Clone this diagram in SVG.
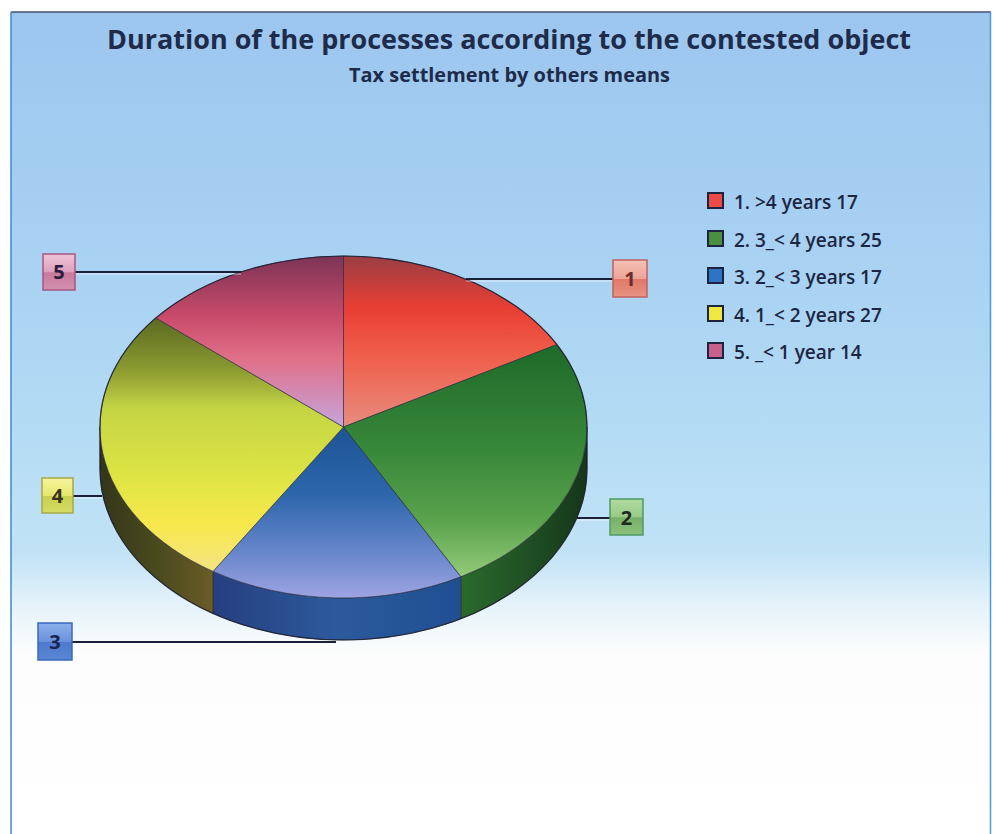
<svg xmlns="http://www.w3.org/2000/svg" width="996" height="834" viewBox="0 0 996 834">
<defs>
<style>
.title{font-family:"Open Sans","Liberation Sans",sans-serif;font-weight:bold;fill:#1e2b4a;}
.leg{font-family:"Open Sans","Liberation Sans",sans-serif;font-weight:600;font-size:19px;fill:#1c2642;}
.num{font-family:"Open Sans","Liberation Sans",sans-serif;font-weight:bold;font-size:20px;text-anchor:middle;}
.conn{stroke:#1a2038;stroke-width:2;fill:none;}
.connhl{stroke:#ffffff;stroke-width:1;opacity:0.6;fill:none;}
.edge{stroke:#2a2838;stroke-width:0.9;stroke-opacity:0.7;}
.sw{stroke:#1c2440;stroke-width:2;}
.box{stroke-width:1.5;}
</style>
<linearGradient id="bg" gradientUnits="userSpaceOnUse" x1="0" y1="12" x2="0" y2="834">
<stop offset="0" stop-color="#9cc6ee"/>
<stop offset="0.25" stop-color="#a6cff2"/>
<stop offset="0.5" stop-color="#b3dbf4"/>
<stop offset="0.66" stop-color="#c2e3f6"/>
<stop offset="0.72" stop-color="#e4f2fa"/>
<stop offset="0.78" stop-color="#fdfdfd"/>
<stop offset="1" stop-color="#ffffff"/>
</linearGradient>
<linearGradient id="gRed" gradientUnits="userSpaceOnUse" x1="0" y1="256" x2="0" y2="427">
<stop offset="0" stop-color="#9a3e44"/>
<stop offset="0.3" stop-color="#e83e34"/>
<stop offset="0.6" stop-color="#f0604c"/>
<stop offset="1" stop-color="#e68c80"/>
</linearGradient>
<linearGradient id="gPink" gradientUnits="userSpaceOnUse" x1="0" y1="256" x2="0" y2="427">
<stop offset="0" stop-color="#7c3456"/>
<stop offset="0.35" stop-color="#c84a6a"/>
<stop offset="0.6" stop-color="#e07088"/>
<stop offset="1" stop-color="#c6a4dc"/>
</linearGradient>
<linearGradient id="gYel" gradientUnits="userSpaceOnUse" x1="0" y1="318" x2="0" y2="575">
<stop offset="0" stop-color="#5c6a22"/>
<stop offset="0.2" stop-color="#8a9a30"/>
<stop offset="0.35" stop-color="#c4d444"/>
<stop offset="0.6" stop-color="#dce444"/>
<stop offset="0.8" stop-color="#f8e84c"/>
<stop offset="1" stop-color="#f2e488"/>
</linearGradient>
<linearGradient id="gGrn" gradientUnits="userSpaceOnUse" x1="0" y1="345" x2="0" y2="578">
<stop offset="0" stop-color="#1e6a2a"/>
<stop offset="0.45" stop-color="#38883a"/>
<stop offset="0.75" stop-color="#5aa24c"/>
<stop offset="1" stop-color="#94cc7a"/>
</linearGradient>
<linearGradient id="gBlu" gradientUnits="userSpaceOnUse" x1="0" y1="427" x2="0" y2="598">
<stop offset="0" stop-color="#1c5496"/>
<stop offset="0.4" stop-color="#2e66ac"/>
<stop offset="0.75" stop-color="#6a88cc"/>
<stop offset="1" stop-color="#9ea4e2"/>
</linearGradient>
<linearGradient id="sYel" gradientUnits="userSpaceOnUse" x1="100" y1="0" x2="213" y2="0">
<stop offset="0" stop-color="#34361a"/>
<stop offset="0.5" stop-color="#4a4a1e"/>
<stop offset="1" stop-color="#6a5c26"/>
</linearGradient>
<linearGradient id="sBlu" gradientUnits="userSpaceOnUse" x1="213" y1="0" x2="461" y2="0">
<stop offset="0" stop-color="#263f80"/>
<stop offset="0.5" stop-color="#2c5a9c"/>
<stop offset="1" stop-color="#1f4f92"/>
</linearGradient>
<linearGradient id="sGrn" gradientUnits="userSpaceOnUse" x1="461" y1="0" x2="587" y2="0">
<stop offset="0" stop-color="#2a6a2c"/>
<stop offset="0.6" stop-color="#1e4c22"/>
<stop offset="1" stop-color="#16361a"/>
</linearGradient>
<linearGradient id="b1" x1="0" y1="0" x2="0" y2="1">
<stop offset="0" stop-color="#f4c2b8"/>
<stop offset="0.5" stop-color="#eca496"/>
<stop offset="0.52" stop-color="#e07868"/>
<stop offset="1" stop-color="#e89484"/>
</linearGradient>
<linearGradient id="b2" x1="0" y1="0" x2="0" y2="1">
<stop offset="0" stop-color="#b0dca0"/>
<stop offset="0.5" stop-color="#98ca86"/>
<stop offset="0.52" stop-color="#78b068"/>
<stop offset="1" stop-color="#8cc27c"/>
</linearGradient>
<linearGradient id="b3" x1="0" y1="0" x2="0" y2="1">
<stop offset="0" stop-color="#8cb0ec"/>
<stop offset="0.5" stop-color="#6a92dc"/>
<stop offset="0.52" stop-color="#4e7ace"/>
<stop offset="1" stop-color="#5a86d4"/>
</linearGradient>
<linearGradient id="b4" x1="0" y1="0" x2="0" y2="1">
<stop offset="0" stop-color="#f4f49c"/>
<stop offset="0.5" stop-color="#e6e86e"/>
<stop offset="0.52" stop-color="#c8d050"/>
<stop offset="1" stop-color="#d4dc64"/>
</linearGradient>
<linearGradient id="b5" x1="0" y1="0" x2="0" y2="1">
<stop offset="0" stop-color="#eec4d8"/>
<stop offset="0.5" stop-color="#dea0bc"/>
<stop offset="0.52" stop-color="#c87a9c"/>
<stop offset="1" stop-color="#d490b0"/>
</linearGradient>
</defs>

<rect x="0" y="0" width="996" height="834" fill="#ffffff"/>
<rect x="11" y="12" width="980" height="830" fill="url(#bg)"/>
<line x1="11" y1="12" x2="991" y2="12" stroke="#4a4e70" stroke-width="1.5"/>
<line x1="11" y1="12" x2="11" y2="834" stroke="#3a8ad0" stroke-width="1.5"/>
<line x1="990.5" y1="12" x2="990.5" y2="834" stroke="#4a9ad6" stroke-width="1.5"/>

<g id="title">
<text class="title" x="509" y="49" font-size="27" text-anchor="middle" textLength="804" lengthAdjust="spacingAndGlyphs">Duration of the processes according to the contested object</text>
<text class="title" x="509.5" y="82" font-size="19" text-anchor="middle" textLength="321" lengthAdjust="spacingAndGlyphs">Tax settlement by others means</text>
</g>

<g id="pie">
<g id="pie-sides">
<path d="M587,427 A243.5,171 0 0 1 460.8,576.8 L460.8,618.8 A243.5,171 0 0 0 587,469 Z" fill="url(#sGrn)" class="edge"/>
<path d="M460.8,576.8 A243.5,171 0 0 1 213,571.4 L213,613.4 A243.5,171 0 0 0 460.8,618.8 Z" fill="url(#sBlu)" class="edge"/>
<path d="M213,571.4 A243.5,171 0 0 1 100,427 L100,469 A243.5,171 0 0 0 213,613.4 Z" fill="url(#sYel)" class="edge"/>
</g>
<g id="slice-1"><path d="M343.5,427 L343.5,256 A243.5,171 0 0 1 556.9,344.6 Z" fill="url(#gRed)" class="edge"/></g>
<g id="slice-2"><path d="M343.5,427 L556.9,344.6 A243.5,171 0 0 1 460.8,576.8 Z" fill="url(#gGrn)" class="edge"/></g>
<g id="slice-3"><path d="M343.5,427 L460.8,576.8 A243.5,171 0 0 1 213,571.4 Z" fill="url(#gBlu)" class="edge"/></g>
<g id="slice-4"><path d="M343.5,427 L213,571.4 A243.5,171 0 0 1 155.9,318 Z" fill="url(#gYel)" class="edge"/></g>
<g id="slice-5"><path d="M343.5,427 L155.9,318 A243.5,171 0 0 1 343.5,256 Z" fill="url(#gPink)" class="edge"/></g>
<path d="M100,427 A243.5,171 0 0 1 587,427 L587,469 A243.5,171 0 0 1 100,469 Z" fill="none" stroke="#1a1a2a" stroke-width="1.2" stroke-opacity="0.8"/>
</g>

<g id="connectors">
<line class="connhl" x1="75" y1="274" x2="241" y2="274"/>
<line class="conn" x1="75" y1="272" x2="241" y2="272"/>
<line class="connhl" x1="466" y1="281" x2="613" y2="281"/>
<line class="conn" x1="466" y1="279" x2="613" y2="279"/>
<line class="connhl" x1="577" y1="520" x2="610" y2="520"/>
<line class="conn" x1="577" y1="518" x2="610" y2="518"/>
<line class="connhl" x1="73" y1="498" x2="102" y2="498"/>
<line class="conn" x1="73" y1="496" x2="102" y2="496"/>
<line class="connhl" x1="72" y1="644" x2="336" y2="644"/>
<line class="conn" x1="72" y1="642" x2="336" y2="642"/>
</g>

<g id="label-1">
<rect class="box" x="613" y="260" width="34" height="37" fill="url(#b1)" stroke="#c46060"/>
<text class="num" x="630" y="286" fill="#6a2c2c">1</text>
</g>
<g id="label-2">
<rect class="box" x="610" y="499" width="33" height="36" fill="url(#b2)" stroke="#4e9a64"/>
<text class="num" x="626.5" y="524.5" fill="#1c2a22">2</text>
</g>
<g id="label-3">
<rect class="box" x="38" y="623" width="34" height="37" fill="url(#b3)" stroke="#3a6abc"/>
<text class="num" x="55" y="649" fill="#1c2250">3</text>
</g>
<g id="label-4">
<rect class="box" x="42" y="478" width="31" height="35" fill="url(#b4)" stroke="#a8a848"/>
<text class="num" x="57.5" y="503" fill="#3a3020">4</text>
</g>
<g id="label-5">
<rect class="box" x="43" y="254" width="32" height="36" fill="url(#b5)" stroke="#a65680"/>
<text class="num" x="59" y="279" fill="#2a1c3a">5</text>
</g>

<g id="legend">
<rect class="sw" x="708" y="193" width="15" height="15" fill="#ec4a44"/>
<text class="leg" x="734" y="209">1. &gt;4 years 17</text>
<rect class="sw" x="708" y="231" width="15" height="15" fill="#4a9040"/>
<text class="leg" x="734" y="247">2. 3_&lt; 4 years 25</text>
<rect class="sw" x="708" y="268" width="15" height="15" fill="#2e74c4"/>
<text class="leg" x="734" y="284">3. 2_&lt; 3 years 17</text>
<rect class="sw" x="708" y="306" width="15" height="15" fill="#f0e840"/>
<text class="leg" x="734" y="322">4. 1_&lt; 2 years 27</text>
<rect class="sw" x="708" y="343" width="15" height="15" fill="#c8608c"/>
<text class="leg" x="734" y="359">5. _&lt; 1 year 14</text>
</g>
</svg>
